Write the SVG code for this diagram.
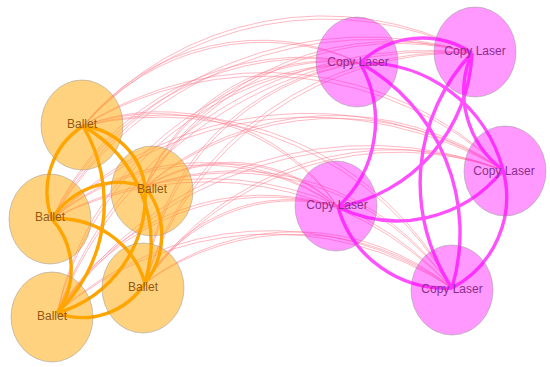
<svg xmlns="http://www.w3.org/2000/svg" width="550" height="367" viewBox="0 0 550 367">
<style>
.x{fill:none;stroke:#ff7f92;stroke-opacity:.55;stroke-width:1}
.o{fill:none;stroke:#ffa500;stroke-width:3.4}
.m{fill:none;stroke:#ff50ff;stroke-width:3.4}
.bn{fill:#ffa500;fill-opacity:.5;stroke:#8c8c8c;stroke-opacity:.45;stroke-width:1}
.cn{fill:#ff00ff;fill-opacity:.4;stroke:#8c8c8c;stroke-opacity:.45;stroke-width:1}
.bt{font-family:"Liberation Sans",Arial,sans-serif;font-size:12px;fill:#94590f;text-anchor:middle}
.ct{font-family:"Liberation Sans",Arial,sans-serif;font-size:12px;fill:#8e2c8e;text-anchor:middle}
</style>
<rect width="550" height="367" fill="#fff"/>
<g id="connectors">
<g id="cross-links">
<path class="x" d="M83 126A227 227 0 0 1 360 63"/>
<path class="x" d="M83 126A236 236 0 0 1 360 63"/>
<path class="x" d="M83 126A317 317 0 0 1 472 53"/>
<path class="x" d="M83 126A330 330 0 0 1 472 53"/>
<path class="x" d="M83 126A338 338 0 0 1 503 170"/>
<path class="x" d="M83 126A352 352 0 0 1 503 170"/>
<path class="x" d="M83 126A214 214 0 0 1 338 207"/>
<path class="x" d="M83 126A223 223 0 0 1 338 207"/>
<path class="x" d="M83 126A322 322 0 0 1 452 288"/>
<path class="x" d="M83 126A335 335 0 0 1 452 288"/>
<path class="x" d="M52 219A276 276 0 0 1 360 63"/>
<path class="x" d="M52 219A287 287 0 0 1 360 63"/>
<path class="x" d="M52 219A361 361 0 0 1 472 53"/>
<path class="x" d="M52 219A375 375 0 0 1 472 53"/>
<path class="x" d="M52 219A363 363 0 0 1 503 170"/>
<path class="x" d="M52 219A378 378 0 0 1 503 170"/>
<path class="x" d="M52 219A229 229 0 0 1 338 207"/>
<path class="x" d="M52 219A238 238 0 0 1 338 207"/>
<path class="x" d="M52 219A325 325 0 0 1 452 288"/>
<path class="x" d="M52 219A338 338 0 0 1 452 288"/>
<path class="x" d="M145 187A199 199 0 0 1 360 63"/>
<path class="x" d="M145 187A207 207 0 0 1 360 63"/>
<path class="x" d="M145 187A283 283 0 0 1 472 53"/>
<path class="x" d="M145 187A294 294 0 0 1 472 53"/>
<path class="x" d="M145 187A287 287 0 0 1 503 170"/>
<path class="x" d="M145 187A298 298 0 0 1 503 170"/>
<path class="x" d="M145 187A155 155 0 0 1 338 207"/>
<path class="x" d="M145 187A161 161 0 0 1 338 207"/>
<path class="x" d="M145 187A259 259 0 0 1 452 288"/>
<path class="x" d="M145 187A269 269 0 0 1 452 288"/>
<path class="x" d="M145 283A246 246 0 0 1 360 63"/>
<path class="x" d="M145 283A256 256 0 0 1 360 63"/>
<path class="x" d="M145 283A320 320 0 0 1 472 53"/>
<path class="x" d="M145 283A333 333 0 0 1 472 53"/>
<path class="x" d="M145 283A300 300 0 0 1 503 170"/>
<path class="x" d="M145 283A312 312 0 0 1 503 170"/>
<path class="x" d="M145 283A166 166 0 0 1 338 207"/>
<path class="x" d="M145 283A173 173 0 0 1 338 207"/>
<path class="x" d="M145 283A246 246 0 0 1 452 288"/>
<path class="x" d="M145 283A256 256 0 0 1 452 288"/>
<path class="x" d="M57 313A314 314 0 0 1 360 63"/>
<path class="x" d="M57 313A327 327 0 0 1 360 63"/>
<path class="x" d="M57 313A392 392 0 0 1 472 53"/>
<path class="x" d="M57 313A408 408 0 0 1 472 53"/>
<path class="x" d="M57 313A375 375 0 0 1 503 170"/>
<path class="x" d="M57 313A390 390 0 0 1 503 170"/>
<path class="x" d="M57 313A240 240 0 0 1 338 207"/>
<path class="x" d="M57 313A250 250 0 0 1 338 207"/>
<path class="x" d="M57 313A317 317 0 0 1 452 288"/>
<path class="x" d="M57 313A330 330 0 0 1 452 288"/>
</g>
<g id="ballet-links">
<path class="o" d="M52 219A78 78 0 0 1 83 126"/>
<path class="o" d="M83 126A151 151 0 0 1 57 313"/>
<path class="o" d="M83 126A135 135 0 0 1 145 283"/>
<path class="o" d="M83 126A70 70 0 0 1 145 187"/>
<path class="o" d="M52 219A79 79 0 0 1 145 187"/>
<path class="o" d="M52 219A90 90 0 0 1 145 283"/>
<path class="o" d="M52 219A75 75 0 0 1 57 313"/>
<path class="o" d="M145 283A74 74 0 0 1 57 313"/>
<path class="o" d="M145 187A123 123 0 0 1 57 313"/>
<path class="o" d="M145 187A77 77 0 0 1 145 283"/>
</g>
<g id="copy-laser-links">
<path class="m" d="M360 63A90 90 0 0 1 472 53"/>
<path class="m" d="M360 63A117 117 0 0 1 338 207"/>
<path class="m" d="M360 63A143 143 0 0 1 503 170"/>
<path class="m" d="M360 63A194 194 0 0 1 452 288"/>
<path class="m" d="M472 53A163 163 0 0 1 338 207"/>
<path class="m" d="M452 288A189 189 0 0 1 472 53"/>
<path class="m" d="M503 170A97 97 0 0 1 472 53"/>
<path class="m" d="M503 170A135 135 0 0 1 338 207"/>
<path class="m" d="M503 170A103 103 0 0 1 452 288"/>
<path class="m" d="M452 288A112 112 0 0 1 338 207"/>
</g>
</g>
<g id="ballet-1"><ellipse class="bn" cx="82" cy="125" rx="41" ry="45"/><text class="bt" x="82" y="128">Ballet</text></g>
<g id="ballet-2"><ellipse class="bn" cx="50" cy="219" rx="41" ry="45"/><text class="bt" x="50" y="221">Ballet</text></g>
<g id="ballet-3"><ellipse class="bn" cx="152" cy="191" rx="41" ry="45"/><text class="bt" x="152" y="193">Ballet</text></g>
<g id="ballet-4"><ellipse class="bn" cx="143" cy="288" rx="41" ry="45"/><text class="bt" x="143" y="291">Ballet</text></g>
<g id="ballet-5"><ellipse class="bn" cx="52" cy="317" rx="41" ry="45"/><text class="bt" x="52" y="320">Ballet</text></g>
<g id="copy-laser-1"><ellipse class="cn" cx="357" cy="62" rx="41" ry="45"/><text class="ct" x="358" y="66">Copy Laser</text></g>
<g id="copy-laser-2"><ellipse class="cn" cx="475" cy="52" rx="41" ry="45"/><text class="ct" x="475" y="55">Copy Laser</text></g>
<g id="copy-laser-3"><ellipse class="cn" cx="505" cy="171" rx="41" ry="45"/><text class="ct" x="504" y="175">Copy Laser</text></g>
<g id="copy-laser-4"><ellipse class="cn" cx="336" cy="206" rx="41" ry="45"/><text class="ct" x="337" y="209">Copy Laser</text></g>
<g id="copy-laser-5"><ellipse class="cn" cx="452" cy="290" rx="41" ry="45"/><text class="ct" x="452" y="293">Copy Laser</text></g>
</svg>
